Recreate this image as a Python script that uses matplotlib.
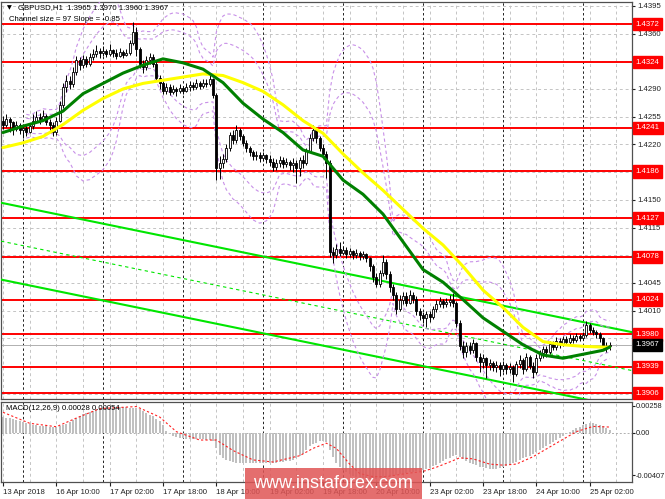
import numpy as np
import pandas as pd
import matplotlib
matplotlib.use("Agg")
import matplotlib.pyplot as plt
import matplotlib.transforms as mtransforms

# GBPUSD H1 bars, 13 Apr 18:00 .. 25 Apr 08:00, prices in points (x 10000)
first_open = 14250
closes = [14245, 14252, 14248, 14240, 14244, 14238, 14241, 14236, 14243, 14250, 14255, 14252, 14256, 14248, 14244, 14236,
          14250, 14270, 14292, 14300, 14296, 14312, 14326, 14320, 14328, 14322, 14330, 14334, 14338, 14335, 14338, 14334,
          14339, 14336, 14332, 14337, 14333, 14336, 14348, 14362, 14340, 14322, 14318, 14326, 14330, 14322, 14304, 14298,
          14288, 14292, 14286, 14290, 14287, 14291, 14288, 14292, 14295, 14293, 14297, 14294, 14298, 14296, 14302, 14282,
          14190, 14196, 14202, 14215, 14232, 14225, 14238, 14230, 14222, 14215, 14210, 14205, 14207, 14203, 14206, 14202,
          14198, 14192, 14196, 14200, 14195, 14198, 14194, 14197, 14190, 14200, 14196, 14212, 14228, 14238, 14228, 14216,
          14208, 14196, 14084, 14080, 14088, 14083, 14087, 14082, 14085, 14080, 14083, 14079, 14081, 14076, 14066, 14052,
          14044, 14058, 14072, 14056, 14040, 14030, 14012, 14024, 14028, 14020, 14030, 14025, 14010, 14004, 14001, 14006,
          14002, 14012, 14019, 14022, 14018, 14021, 14024, 14020, 13994, 13966, 13958, 13966, 13960, 13969, 13952, 13945,
          13950, 13941, 13944, 13939, 13942, 13937, 13941, 13936, 13939, 13930, 13943, 13948, 13936, 13952, 13940, 13932,
          13950, 13956, 13962, 13958, 13968, 13964, 13972, 13968, 13974, 13970, 13976, 13973, 13978, 13975, 13979, 13992,
          13986, 13983, 13980, 13975, 13966, 13965, 13967]
highs = [14256, 14258, 14255, 14250, 14249, 14247, 14246, 14244, 14247, 14258, 14262, 14260, 14264, 14258, 14252, 14248,
         14254, 14275, 14298, 14308, 14306, 14318, 14332, 14330, 14333, 14331, 14336, 14340, 14345, 14342, 14344, 14341,
         14347, 14341, 14340, 14342, 14339, 14341, 14352, 14375, 14368, 14343, 14326, 14332, 14336, 14334, 14325, 14308,
         14300, 14297, 14296, 14295, 14293, 14296, 14294, 14298, 14300, 14299, 14302, 14300, 14303, 14302, 14308, 14304,
         14285, 14205, 14208, 14220, 14236, 14238, 14244, 14241, 14233, 14226, 14218, 14213, 14212, 14210, 14211, 14208,
         14206, 14203, 14201, 14205, 14204, 14203, 14200, 14203, 14200, 14204, 14206, 14216, 14233, 14244, 14242, 14231,
         14220, 14212, 14200, 14090, 14094, 14097, 14092, 14090, 14089, 14087, 14088, 14085, 14085, 14083, 14078, 14069,
         14058, 14062, 14080, 14075, 14060, 14044, 14034, 14030, 14034, 14034, 14036, 14033, 14028, 14014, 14008, 14010,
         14009, 14016, 14024, 14027, 14025, 14026, 14030, 14032, 14022, 13998, 13972, 13970, 13970, 13974, 13970, 13956,
         13955, 13952, 13949, 13947, 13946, 13945, 13946, 13944, 13944, 13942, 13947, 13954, 13950, 13957, 13954, 13945,
         13955, 13960, 13966, 13966, 13972, 13972, 13977, 13976, 13978, 13978, 13980, 13979, 13982, 13981, 13983, 13997,
         13994, 13990, 13986, 13983, 13977, 13970, 13970]
lows = [14240, 14242, 14236, 14232, 14237, 14233, 14228, 14231, 14234, 14240, 14248, 14246, 14249, 14244, 14238, 14230,
        14232, 14248, 14266, 14286, 14290, 14293, 14308, 14314, 14317, 14318, 14319, 14326, 14330, 14329, 14331, 14330,
        14332, 14330, 14328, 14330, 14329, 14331, 14333, 14345, 14332, 14316, 14310, 14314, 14321, 14318, 14300, 14290,
        14284, 14283, 14282, 14283, 14281, 14285, 14283, 14286, 14288, 14289, 14290, 14290, 14291, 14292, 14294, 14278,
        14175, 14176, 14190, 14198, 14212, 14220, 14222, 14226, 14218, 14210, 14205, 14200, 14200, 14198, 14199, 14197,
        14193, 14187, 14188, 14192, 14190, 14191, 14188, 14185, 14171, 14180, 14190, 14194, 14210, 14224, 14222, 14212,
        14203, 14178, 14078, 14070, 14076, 14079, 14080, 14076, 14078, 14075, 14077, 14074, 14075, 14072, 14060, 14046,
        14040, 14040, 14054, 14050, 14034, 14024, 14006, 14010, 14018, 14016, 14018, 14020, 14005, 13998, 13995, 13990,
        13996, 14000, 14008, 14015, 14014, 14015, 14016, 14015, 13990, 13960, 13950, 13952, 13955, 13957, 13947, 13932,
        13938, 13925, 13935, 13934, 13932, 13928, 13933, 13930, 13931, 13920, 13928, 13938, 13930, 13934, 13936, 13925,
        13930, 13946, 13950, 13952, 13955, 13960, 13961, 13963, 13965, 13967, 13968, 13969, 13970, 13972, 13973, 13977,
        13982, 13979, 13976, 13971, 13963, 13958, 13960]

ma_bars = [0, 6, 12, 18, 24, 30, 36, 42, 48, 54, 60, 66, 72, 78, 84, 90, 96, 102, 108, 114, 120, 126, 132, 138, 144,
           150, 156, 162, 168, 174, 180, 182]
green_ma = [14235, 14243, 14250, 14262, 14284, 14297, 14310, 14320, 14328, 14323, 14315, 14298, 14272, 14252, 14235,
            14213, 14205, 14175, 14157, 14132, 14097, 14062, 14046, 14024, 14001, 13984, 13967, 13954, 13950, 13955,
            13960, 13964]
yellow_ma = [14216, 14222, 14230, 14245, 14263, 14278, 14290, 14297, 14301, 14305, 14309, 14307, 14298, 14287, 14270,
             14250, 14234, 14208, 14184, 14162, 14138, 14114, 14093, 14066, 14036, 14014, 13989, 13971, 13967, 13965,
             13964, 13964]

levels = [1.4372, 1.4324, 1.4241, 1.4186, 1.4127, 1.4078, 1.4024, 1.3980, 1.3939, 1.3906]
last_price = 1.3967
price_ticks = [1.4395, 1.4360, 1.4290, 1.4255, 1.4220, 1.4150, 1.4115, 1.4045, 1.4010]

# equidistant channel: anchors on the upper line, channel size 97 points
chan_bars = [0, 182]
chan_upper = [1.41458, 1.39887]
chan_size = 0.0097

# MACD(12,26,9) main values in 1e-5
macd_main = [150, 145, 138, 130, 122, 112, 102, 92, 82, 76, 70, 66, 62, 60, 58, 56,
             55, 60, 70, 82, 98, 118, 140, 158, 174, 188, 200, 210, 220, 228, 232, 235,
             238, 240, 241, 242, 242, 241, 240, 237, 232, 224, 208, 190, 172, 156, 132, 110,
             75, 20, -10, -30, -40, -48, -55, -60, -62, -60, -58, -60, -62, -65, -70, -80,
             -150, -210, -240, -260, -272, -280, -286, -290, -292, -293, -292, -291, -290, -290, -289, -288,
             -287, -286, -285, -283, -280, -275, -268, -258, -245, -225, -200, -165, -130, -110, -95, -82,
             -80, -90, -170, -230, -285, -330, -360, -380, -398, -410, -420, -428, -434, -438, -440, -440,
             -438, -435, -432, -425, -418, -410, -400, -395, -390, -385, -380, -375, -370, -365, -360, -350,
             -335, -320, -305, -288, -270, -255, -240, -222, -215, -230, -255, -272, -290, -300, -312, -325,
             -330, -338, -345, -350, -348, -340, -330, -318, -305, -292, -280, -262, -245, -232, -218, -205,
             -185, -170, -150, -130, -110, -90, -70, -50, -30, -10, 10, 30, 45, 58, 70, 80,
             90, 90, 85, 75, 60, 42, 28]
signal_bars = [0, 8, 16, 22, 29, 40, 47, 52, 59, 64, 69, 75, 81, 89, 93, 97, 100, 104, 107, 111, 115, 121, 126,
               130, 134, 137, 141, 146, 150, 154, 159, 166, 172, 177, 182]
signal_vals = [195, 90, 57, 140, 230, 250, 150, 10, -70, -70, -170, -260, -280, -220, -150, -100, -150, -300, -390,
               -420, -420, -390, -370, -330, -280, -240, -250, -300, -310, -300, -230, -100, 10, 60, 54]
macd_ticks = [0.00258, 0.0, -0.00407]

label_bars = [0, 16, 32, 48, 64, 80, 96, 112, 128, 144, 160, 176]
time_labels = ["13 Apr 2018", "16 Apr 10:00", "17 Apr 02:00", "17 Apr 18:00", "18 Apr 10:00", "19 Apr 02:00",
               "19 Apr 18:00", "20 Apr 10:00", "23 Apr 02:00", "23 Apr 18:00", "24 Apr 10:00", "25 Apr 02:00"]
day_bars = [6, 30, 54, 78, 102, 126, 150, 174]

plt.rcParams['font.family'] = ['Liberation Sans', 'DejaVu Sans']
fs = 5.6

c = np.array(closes) / 10000
h = np.array(highs) / 10000
l = np.array(lows) / 10000
o = np.concatenate([[first_open / 10000], c[:-1]])
idx = np.arange(len(c))

fig = plt.figure(figsize=(6.65, 4.99), dpi=100)
ax = fig.add_axes([1 / 665, 1 - 399 / 499, 631 / 665, 397 / 499])
axm = fig.add_axes([1 / 665, 1 - 482 / 499, 631 / 665, 80 / 499])

xmin, xmax = -0.6, 188.7
for a in (ax, axm):
    a.set_xlim(xmin, xmax)
    for b in range(0, 190, 8):
        a.axvline(b, color='#c4c4c4', lw=0.7, ls=(0, (3, 3)), zorder=0)
    for b in day_bars:
        a.axvline(b, color='#202020', lw=0.7, ls=(0, (2.5, 2.5)), zorder=0.5)
    for s in a.spines.values():
        s.set_color('#505050')
        s.set_linewidth(0.9)

ax.set_ylim(1.38985, 1.43998)
grid_levels = np.round(np.arange(1.4395, 1.3900, -0.0035), 4)
for g in grid_levels:
    ax.axhline(g, color='#c4c4c4', lw=0.7, ls=(0, (3, 3)), zorder=0)
ax.yaxis.tick_right()
ax.set_yticks(price_ticks)
ax.set_yticklabels([f'{g:.4f}' for g in price_ticks])
ax.tick_params(axis='y', labelsize=fs, length=2, pad=2, colors='#202020')
ax.set_xticks([])

# horizontal levels
trans = mtransforms.blended_transform_factory(ax.transAxes, ax.transData)
for lv in levels:
    ax.axhline(lv, color='#ff0000', lw=1.4, zorder=2)
    ax.text(1.006, lv, f'{lv:.4f}', transform=trans, fontsize=fs, color='white', va='center', ha='left',
            bbox=dict(boxstyle='square,pad=0.35', fc='#ff0000', ec='#ff0000'), zorder=10, clip_on=False)
ax.axhline(last_price, color='#b0b0b0', lw=0.7, zorder=1.5)
ax.text(1.006, last_price, f'{last_price:.4f}', transform=trans, fontsize=fs, color='white', va='center', ha='left',
        bbox=dict(boxstyle='square,pad=0.35', fc='black', ec='black'), zorder=11, clip_on=False)

# channel
slope = (chan_upper[1] - chan_upper[0]) / (chan_bars[1] - chan_bars[0])
xs = np.array([xmin, xmax])
up = chan_upper[0] + slope * (xs - chan_bars[0])
ax.plot(xs, up, color='#00e600', lw=1.5, zorder=3)
ax.plot(xs, up - chan_size, color='#00e600', lw=1.5, zorder=3)
ax.plot(xs, up - chan_size / 2, color='#00e600', lw=0.8, ls=(0, (3, 3)), zorder=3)

# bollinger bands
cs = pd.Series(c)
mid = cs.rolling(20, min_periods=8).mean()
sd = cs.rolling(20, min_periods=8).std(ddof=0)
for k in (2, 3):
    ax.plot(idx, mid + k * sd, color='#c890e8', lw=0.8, ls=(0, (3, 2.5)), zorder=3)
    ax.plot(idx, mid - k * sd, color='#c890e8', lw=0.8, ls=(0, (3, 2.5)), zorder=3)

# candles
ax.vlines(idx, l, h, color='black', lw=0.7, zorder=4)
bull = c >= o
body_lo = np.minimum(o, c)
body_h = np.maximum(np.abs(c - o), 0.00006)
ax.bar(idx[bull], body_h[bull], bottom=body_lo[bull], width=0.62, color='white', edgecolor='black',
       linewidth=0.6, zorder=5)
ax.bar(idx[~bull], body_h[~bull], bottom=body_lo[~bull], width=0.62, color='black', edgecolor='black',
       linewidth=0.6, zorder=5)

# moving averages
ax.plot(ma_bars, np.array(yellow_ma) / 10000, color='#ffff00', lw=2.2, zorder=6, solid_capstyle='round')
ax.plot(ma_bars, np.array(green_ma) / 10000, color='#008000', lw=2.2, zorder=6, solid_capstyle='round')

ax.text(0.010, 0.986, '\u25bc', transform=ax.transAxes, fontsize=4.5, va='center', ha='left',
        family='DejaVu Sans', zorder=12)
ax.text(0.027, 0.986, 'GBPUSD,H1  1.3965 1.3970 1.3960 1.3967', transform=ax.transAxes, fontsize=fs,
        va='center', ha='left', zorder=12)
ax.text(0.012, 0.955, 'Channel size = 97 Slope = -0.85', transform=ax.transAxes, fontsize=fs,
        va='center', ha='left', zorder=12)

# MACD panel
axm.set_ylim(-0.004711, 0.002934)
axm.axhline(0, color='#b0b0b0', lw=0.7, ls=(0, (2, 2)), zorder=0)
axm.bar(idx, np.array(macd_main) / 1e5, width=0.6, color='#c0c0c0', zorder=2)
axm.plot(signal_bars, np.array(signal_vals) / 1e5, color='#ff2020', lw=0.8, ls=(0, (2, 2)), zorder=3)
axm.yaxis.tick_right()
axm.set_yticks(macd_ticks)
axm.set_yticklabels(['0.00258', '0.00', '-0.00407'])
axm.tick_params(axis='y', labelsize=fs - 0.3, length=2, pad=1, colors='#202020')
axm.set_xticks(label_bars)
axm.set_xticklabels(time_labels, ha='left')
axm.tick_params(axis='x', labelsize=fs, length=3, pad=2, colors='#202020')
axm.text(0.008, 0.92, 'MACD(12,26,9) 0.00028 0.00054', transform=axm.transAxes, fontsize=fs,
         va='center', ha='left', zorder=12)

# watermark
fig.patches.append(plt.Rectangle((245 / 665, 0), 177 / 665, 31 / 499, transform=fig.transFigure,
                                 fc='#e05555', ec='none', alpha=0.85, zorder=20))
fig.text(333 / 665, 15 / 499, 'www.instaforex.com', fontsize=13, color='white', ha='center', va='center',
         zorder=21)

fig.savefig('out.png', dpi=100)
